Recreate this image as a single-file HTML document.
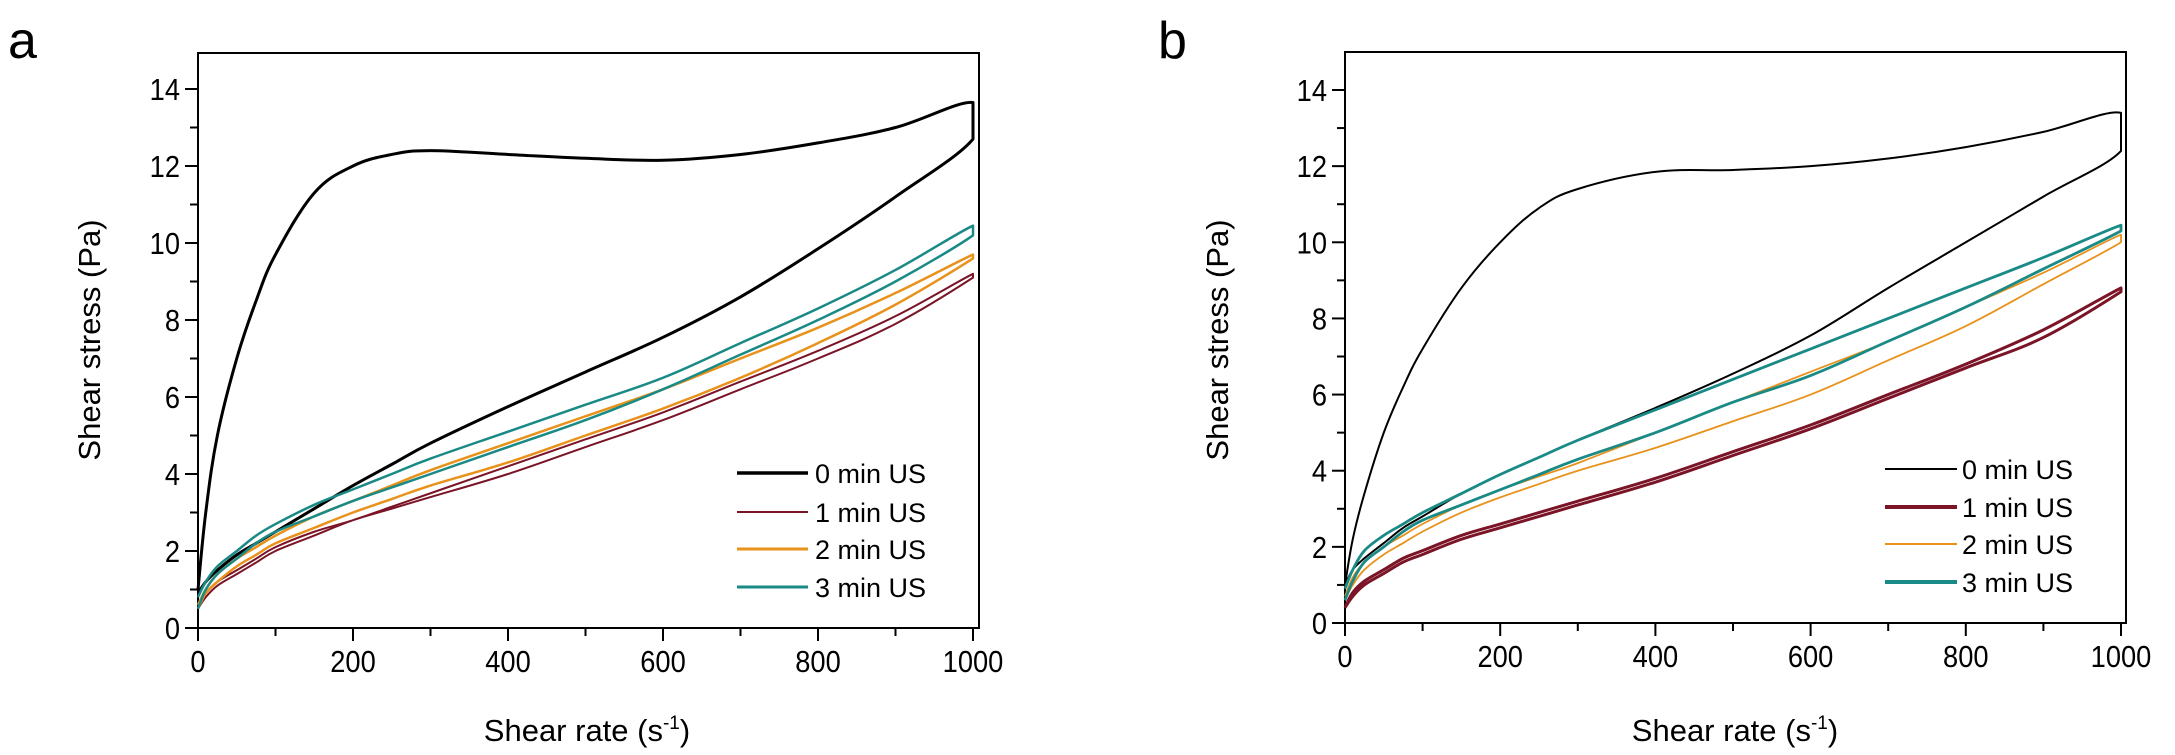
<!DOCTYPE html>
<html><head><meta charset="utf-8"><style>
body{margin:0;background:#fff}
svg{display:block}
text{font-family:"Liberation Sans",sans-serif;fill:#000}
</style></head><body>
<svg id="fig" width="2175" height="755" viewBox="0 0 2175 755"></svg>
<script>
const xGrid=[0,10,25,50,75,100,150,200,250,300,400,500,600,700,800,900,1000];
// Panel a
const a0Up=[1.0,3.0,5.0,7.0,8.5,9.7,11.3,12.0,12.3,12.4,12.3,12.2,12.15,12.3,12.6,13.0,13.65];
const a0Down=[0.9,1.2,1.5,1.9,2.2,2.5,3.1,3.7,4.25,4.8,5.75,6.65,7.55,8.6,9.85,11.2,12.7];
const a1Up=[0.5,0.9,1.2,1.5,1.8,2.1,2.5,2.8,3.15,3.5,4.2,4.9,5.6,6.4,7.2,8.1,9.2];
const a1Down=[0.5,0.8,1.1,1.4,1.7,2.0,2.4,2.8,3.1,3.4,4.0,4.7,5.4,6.2,7.0,7.9,9.1];
const a2Up=[0.6,1.0,1.4,1.8,2.1,2.4,2.9,3.3,3.7,4.1,4.8,5.5,6.2,7.0,7.8,8.7,9.7];
const a2Down=[0.5,0.9,1.2,1.6,1.9,2.2,2.6,3.0,3.35,3.7,4.3,5.0,5.7,6.5,7.4,8.4,9.6];
const a3Up=[0.8,1.2,1.6,2.0,2.4,2.7,3.2,3.6,4.0,4.4,5.1,5.8,6.5,7.4,8.3,9.3,10.45];
const a3Down=[0.5,1.0,1.4,1.8,2.2,2.5,2.9,3.3,3.65,4.0,4.7,5.4,6.2,7.1,8.0,9.0,10.2];
// Panel b
const b0Up=[1.0,2.2,3.4,5.0,6.2,7.2,8.8,10.0,10.9,11.4,11.85,11.9,12.0,12.2,12.5,12.9,13.4];
const b0Down=[1.0,1.4,1.7,2.1,2.5,2.8,3.4,3.9,4.35,4.8,5.65,6.55,7.55,8.8,10.0,11.2,12.4];
const b1Up=[0.4,0.8,1.1,1.4,1.7,1.9,2.3,2.6,2.9,3.2,3.8,4.5,5.2,6.0,6.8,7.7,8.8];
const b1Down=[0.4,0.7,1.0,1.3,1.6,1.8,2.2,2.5,2.8,3.1,3.7,4.4,5.1,5.9,6.7,7.5,8.7];
const b2Up=[0.7,1.2,1.6,2.0,2.3,2.6,3.1,3.5,3.85,4.2,5.0,5.8,6.6,7.4,8.3,9.2,10.2];
const b2Down=[0.6,1.0,1.4,1.8,2.1,2.4,2.9,3.3,3.65,4.0,4.6,5.3,6.0,6.9,7.8,8.9,10.0];
const b3Up=[0.9,1.4,1.9,2.3,2.6,2.9,3.4,3.9,4.35,4.8,5.6,6.4,7.2,8.0,8.8,9.6,10.45];
const b3Down=[0.6,1.1,1.6,2.0,2.4,2.7,3.1,3.5,3.9,4.3,5.0,5.8,6.5,7.4,8.3,9.3,10.3];
const xTicks=[0,200,400,600,800,1000];
const yTicks=[0,2,4,6,8,10,12,14];
const legendLabels=["0 min US","1 min US","2 min US","3 min US"];
const colors=["#000000","#7a1426","#e8921c","#1a8a86"];

const NS="http://www.w3.org/2000/svg";
const svg=document.getElementById('fig');
function mk(tag,attrs,parent){const e=document.createElementNS(NS,tag);for(const k in attrs)e.setAttribute(k,attrs[k]);(parent||svg).appendChild(e);return e;}

const panels=[
 {id:'a',x0:198,x1:973,y0:628,y14:89,top:53,right:979,series:[[a0Up,a0Down],[a1Up,a1Down],[a2Up,a2Down],[a3Up,a3Down]],widths:[3,2,2.5,2.5],
  leg:{lx1:737,lx2:808,tx:815,ys:[473,512,549,587],lw:[3.5,2,3,3]},label:[8,58],titleX:587,ylabX:100},
 {id:'b',x0:1345,x1:2121,y0:623,y14:90,top:52,right:2126,series:[[b0Up,b0Down],[b1Up,b1Down],[b2Up,b2Down],[b3Up,b3Down]],widths:[2,3,1.8,2.8],
  leg:{lx1:1885,lx2:1957,tx:1962,ys:[469,507,544,582],lw:[2,4,2,4]},label:[1158,58],titleX:1735,ylabX:1228}
];

panels.forEach(p=>{
 const g=mk('g',{});
 
 
 const sx=v=>p.x0+(p.x1-p.x0)*v/1000;
 const sy=v=>p.y0-(p.y0-p.y14)*v/14;
 const lbl=mk('text',{x:p.label[0],y:p.label[1],'font-size':52},g);lbl.textContent=p.id;
 
 
 const fr=mk('rect',{x:p.x0,y:p.top,width:p.right-p.x0,height:p.y0-p.top,fill:'none',stroke:'#000','stroke-width':2},g);
 
 
 for(let v=0;v<=1000;v+=100){
  const major=v%200===0;
  mk('line',{x1:sx(v),x2:sx(v),y1:p.y0,y2:p.y0+(major?13:8),stroke:'#000','stroke-width':2},g);
 }
 xTicks.forEach(v=>{const t=mk('text',{x:sx(v),y:p.y0+44,'font-size':31,'text-anchor':'middle',transform:`translate(${sx(v)},0) scale(0.88,1) translate(${-sx(v)},0)`},g);t.textContent=v;
  
  });
 for(let v=0;v<=14;v+=1){
  const major=v%2===0;
  mk('line',{x1:p.x0,x2:p.x0-(major?13:8),y1:sy(v),y2:sy(v),stroke:'#000','stroke-width':2},g);
 }
 yTicks.forEach(v=>{const xx=p.x0-18;const t=mk('text',{x:xx,y:sy(v)+11,'font-size':31,'text-anchor':'end',transform:`translate(${xx},0) scale(0.88,1) translate(${-xx},0)`},g);t.textContent=v;
  
  });
 const xt=mk('text',{x:p.titleX,y:741,'font-size':31,'text-anchor':'middle'},g);
 xt.innerHTML='Shear rate (s<tspan dy="-12" font-size="19">-1</tspan><tspan dy="12">)</tspan>';
 
 
 const yt=mk('text',{x:0,y:0,'font-size':31,'text-anchor':'middle',transform:`translate(${p.ylabX},340) rotate(-90)`},g);
 yt.textContent='Shear stress (Pa)';
 
 
 p.series.forEach((s,i)=>{
  const pts=[];
  xGrid.forEach((x,j)=>pts.push([sx(x),sy(s[0][j])]));
  for(let j=xGrid.length-1;j>=0;j--)pts.push([sx(xGrid[j]),sy(s[1][j])]);
  let d='M'+pts[0][0]+','+pts[0][1];
  for(let k=0;k<pts.length-1;k++){
   const p0=pts[Math.max(0,k-1)],p1=pts[k],p2=pts[k+1],p3=pts[Math.min(pts.length-1,k+2)];
   if(k===xGrid.length-1){d+=' L'+p2[0]+','+p2[1];continue;}
   const t=0.18;
   const c1=[p1[0]+(p2[0]-p0[0])*t,p1[1]+(p2[1]-p0[1])*t];
   const c2=[p2[0]-(p3[0]-p1[0])*t,p2[1]-(p3[1]-p1[1])*t];
   d+=` C${c1[0]},${c1[1]} ${c2[0]},${c2[1]} ${p2[0]},${p2[1]}`;
  }
  const path=mk('path',{d:d,fill:'none',stroke:colors[i],'stroke-width':p.widths[i],'stroke-linejoin':'round'},g);
  
  
 });
 const lg=mk('g',{},g);
 
 
 legendLabels.forEach((L,i)=>{
  const y=p.leg.ys[i];
  const e=mk('g',{},lg);
  
  
  mk('line',{x1:p.leg.lx1,x2:p.leg.lx2,y1:y,y2:y,stroke:colors[i],'stroke-width':p.leg.lw[i]},e);
  const t=mk('text',{x:p.leg.tx,y:y+10,'font-size':27},e);t.textContent=L;
 });
});
</script>
</body></html>
